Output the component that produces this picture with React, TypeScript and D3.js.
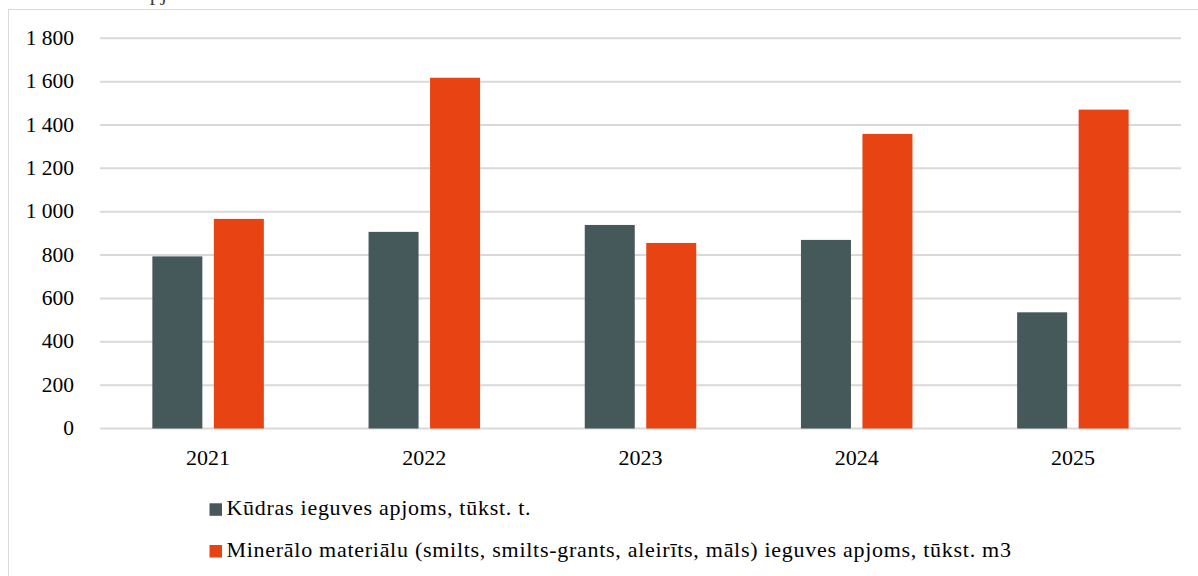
import React from 'react';
import * as d3 from 'd3';

const years = ['2021', '2022', '2023', '2024', '2025'];
const peat = [794, 907, 939, 870, 536];
const minerals = [967, 1618, 856, 1359, 1471];
const yTicks = [0, 200, 400, 600, 800, 1000, 1200, 1400, 1600, 1800];
const seriesNames = [
  'Kūdras ieguves apjoms, tūkst. t.',
  'Minerālo materiālu (smilts, smilts-grants, aleirīts, māls) ieguves apjoms, tūkst. m3',
];
const colors = ['#45585a', '#e84312'];

const width = 1198;
const height = 576;
const margin = { top: 38.3, right: 17, bottom: 147.5, left: 100 };
const font = { fontFamily: '"Liberation Serif"' };

function App() {
  const x = d3
    .scaleBand()
    .domain(years)
    .range([margin.left, width - margin.right])
    .padding(0);

  // two bars inside each year, 50px wide with a small gap
  const inner = d3
    .scaleBand()
    .domain(['0', '1'])
    .range([-55.75, 55.75])
    .paddingInner(0.187)
    .paddingOuter(0);

  const y = d3
    .scaleLinear()
    .domain([0, 1800])
    .range([height - margin.bottom, margin.top]);

  const fmt = (d: number) => d3.format(',')(d).replace(',', ' ');
  const series = [peat, minerals];

  return (
    <svg
      width={width}
      height={height}
      style={{ position: 'absolute', left: 0, top: 0, background: '#fff' }}
    >
      {/* outer frame, runs past the right and bottom edges */}
      <rect x={8.5} y={9.5} width={width + 10} height={height + 10} fill='none' stroke='#d9d9d9' strokeWidth={1} />

      {/* title, mostly cut off by the top edge */}
      <text x={140} y={0} fontSize={22} fill='#404040' style={font}>
        apjoms
      </text>

      <g className='grid'>
        {yTicks.map((t) => (
          <line key={t} x1={margin.left} x2={width - margin.right} y1={y(t)} y2={y(t)} stroke='#d9d9d9' strokeWidth={2} />
        ))}
      </g>

      <g className='yAxis'>
        {yTicks.map((t) => (
          <text key={t} x={74} y={y(t) + 6.5} textAnchor='end' fontSize={21.5} fill='#000' style={font}>
            {fmt(t)}
          </text>
        ))}
      </g>

      {series.map((vals, i) => (
        <g key={i} fill={colors[i]}>
          {vals.map((v, j) => (
            <rect
              key={years[j]}
              x={(x(years[j]) as number) + x.bandwidth() / 2 + (inner(String(i)) as number)}
              width={inner.bandwidth()}
              y={y(v)}
              height={y(0) - y(v)}
            />
          ))}
        </g>
      ))}

      <g className='xAxis'>
        {years.map((d) => (
          <text key={d} x={(x(d) as number) + x.bandwidth() / 2} y={465} textAnchor='middle' fontSize={22} fill='#000' style={font}>
            {d}
          </text>
        ))}
      </g>

      <g className='legend'>
        {seriesNames.map((name, i) => (
          <g key={name} transform={`translate(209.5,${503.3 + i * 41.7})`}>
            <rect width={12.5} height={12.5} fill={colors[i]} />
            <text x={17} y={12} fontSize={22} letterSpacing={0.72} fill='#000' style={font}>
              {name}
            </text>
          </g>
        ))}
      </g>
    </svg>
  );
}

export default App;
